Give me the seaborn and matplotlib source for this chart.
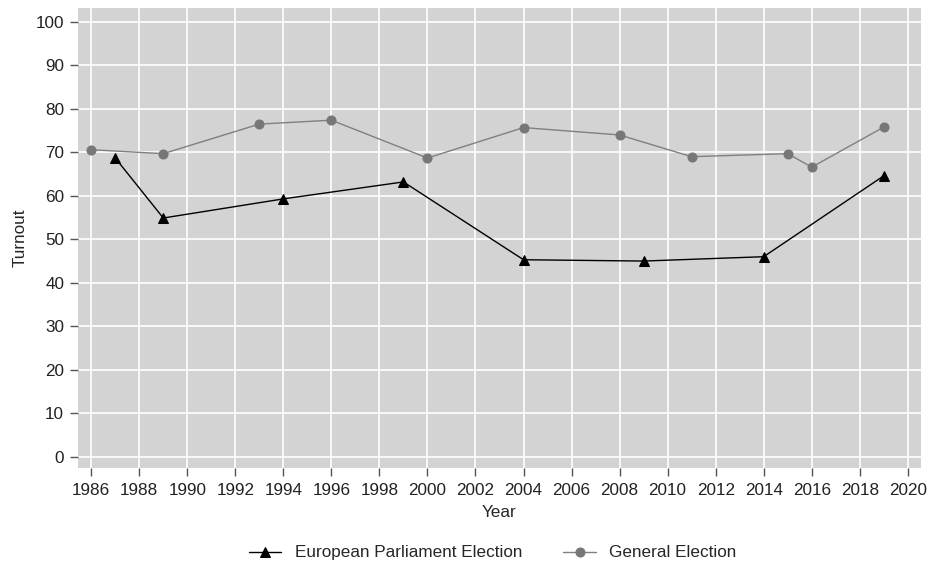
import matplotlib
matplotlib.use("Agg")
import matplotlib.pyplot as plt
import seaborn as sns
import pandas as pd

# Turnout (%) by election type
ep_years = [1987, 1989, 1994, 1999, 2004, 2009, 2014, 2019]
ep_turnout = [68.7, 54.9, 59.3, 63.2, 45.3, 45.0, 46.0, 64.6]

ge_years = [1986, 1989, 1993, 1996, 2000, 2004, 2008, 2011, 2015, 2016, 2019]
ge_turnout = [70.6, 69.7, 76.5, 77.4, 68.7, 75.7, 74.0, 69.0, 69.7, 66.6, 75.8]

x_ticks = list(range(1986, 2021, 2))
y_ticks = list(range(0, 101, 10))

sns.set_theme(style="darkgrid")
plt.rcParams["font.family"] = ["Liberation Sans", "DejaVu Sans"]

ep = pd.DataFrame({"Year": ep_years, "Turnout": ep_turnout})
ge = pd.DataFrame({"Year": ge_years, "Turnout": ge_turnout})

fig = plt.figure(figsize=(9.3, 5.64), dpi=100)
ax = fig.add_axes([0.0839, 0.1702, 0.9064, 0.8156])
ax.set_facecolor("#d3d3d3")

sns.lineplot(data=ep, x="Year", y="Turnout", ax=ax, color="black",
             marker="^", markersize=6.5, markeredgecolor="black", linewidth=1.0,
             label="European Parliament Election")
sns.lineplot(data=ge, x="Year", y="Turnout", ax=ax, color="#808080",
             marker="o", markersize=6.5, markeredgecolor="#777777",
             markerfacecolor="#777777", linewidth=1.0,
             label="General Election")

ax.set_xlim(1985.45, 2020.55)
ax.set_ylim(-2.6, 103.2)
ax.set_xticks(x_ticks)
ax.set_yticks(y_ticks)
ax.grid(True, color="white", linewidth=1.2)
for s in ax.spines.values():
    s.set_visible(False)

fs = 12.3
ax.tick_params(axis="both", which="both", length=6, width=1, color="#555555",
               labelsize=fs, labelcolor="#222222", direction="out",
               bottom=True, left=True, pad=4)
ax.tick_params(axis="x", pad=5)
ax.set_xlabel("Year", fontsize=fs, labelpad=5)
ax.set_ylabel("Turnout", fontsize=fs, labelpad=6)

ax.legend(loc="upper center", bbox_to_anchor=(0.492, -0.135), ncol=2,
          frameon=False, fontsize=fs, columnspacing=2.4, handlelength=1.9,
          handletextpad=0.8)

fig.savefig("out.png", dpi=100)
